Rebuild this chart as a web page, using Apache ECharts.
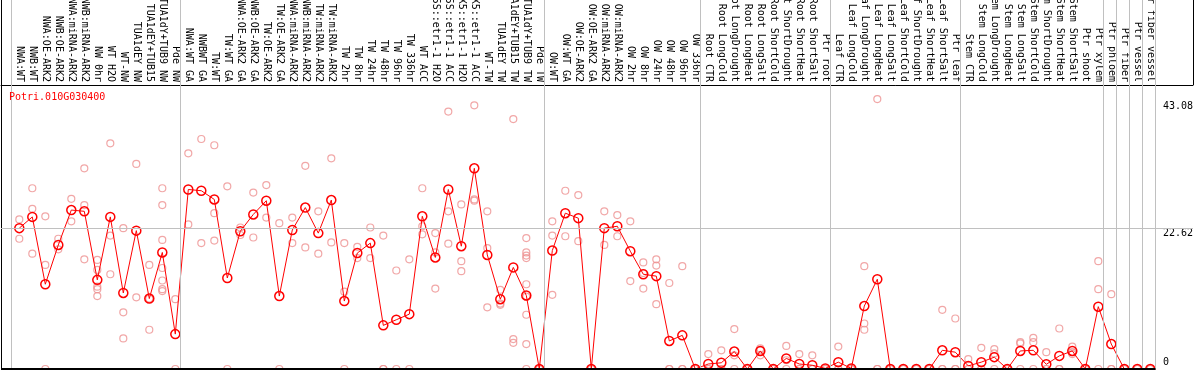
<!DOCTYPE html>
<html>
<head>
<meta charset="utf-8">
<script src="https://cdn.jsdelivr.net/npm/echarts@6/dist/echarts.min.js"></script>
<style>
html,body{margin:0;padding:0;background:#fff;}
#chart{width:1194px;height:370px;}
</style>
</head>
<body>
<div id="chart"></div>
<script>
const geneName = 'Potri.010G030400';

const categories = [
  'NWA:WT','NWB:WT','NWA:OE-ARK2','NWB:OE-ARK2','NWA:miRNA-ARK2','NWB:miRNA-ARK2','NW 0hr','WT H2O','WT-NW',
  'TUA1dEY NW','TUA1dEY+TUB15','TUA1dY+TUB9 NW','Pde NW',
  'NWA:WT GA','NWBWT GA','TW:WT','TW:WT GA','NWA:OE-ARK2 GA','NWB:OE-ARK2 GA','TW:OE-ARK2','TW:OE-ARK2 GA',
  'NWA:miRNA-ARK2','NWB:miRNA-ARK2','TW:miRNA-ARK2','TW:miRNA-ARK2',
  'TW 2hr','TW 8hr','TW 24hr','TW 48hr','TW 96hr','TW 336hr','WT ACC',
  '35S::etr1-1 H2O','35S::etr1-1 ACC','LMX5::etr1-1 H2O','LMX5::etr1-1 ACC',
  'WT-TW','TUA1dEY TW','TUA1dEY+TUB15 TW','TUA1dY+TUB9 TW','Pde TW',
  'OW:WT','OW:WT GA','OW:OE-ARK2','OW:OE-ARK2 GA','OW:miRNA-ARK2','OW:miRNA-ARK2',
  'OW 2hr','OW 8hr','OW 24hr','OW 48hr','OW 96hr','OW 336hr',
  'Root CTR','Root LongCold','Root LongDrought','Root LongHeat','Root LongSalt','Root ShortCold','Root ShortDrought','Root ShortHeat','Root ShortSalt','Ptr root',
  'Leaf CTR','Leaf LongCold','Leaf LongDrought','Leaf LongHeat','Leaf LongSalt','Leaf ShortCold','Leaf ShortDrought','Leaf ShortHeat','Leaf ShortSalt','Ptr leaf',
  'Stem CTR','Stem LongCold','Stem LongDrought','Stem LongHeat','Stem LongSalt','Stem ShortCold','Stem ShortDrought','Stem ShortHeat','Stem ShortSalt',
  'Ptr shoot','Ptr xylem','Ptr phloem','Ptr fiber','Ptr vessel','Ptr fiber vessel'
];

const meanValues = [
  22.6,24.4,13.6,19.9,25.5,25.3,14.3,24.4,12.2,22.2,11.3,18.7,5.6,
  28.8,28.6,27.2,14.6,22.1,24.8,27.0,11.7,22.3,25.9,21.8,27.1,
  10.9,18.6,20.2,7.0,7.9,8.8,24.5,17.9,28.8,19.7,32.2,18.3,11.2,16.3,11.8,0,
  19.0,25.0,24.2,0,22.6,22.9,18.9,15.2,14.9,4.5,5.4,0,
  0.8,1.0,2.8,0,2.9,0,1.7,0.8,0.6,0.1,
  1.1,0.1,10.1,14.4,0,0,0,0,3.0,2.7,
  0.5,1.1,1.9,0,2.9,3.0,0.75,2.1,2.9,
  0,10.0,4.0,0,0,0
];

const replicateValues = [
  [24.0,20.9],[29.0,25.7,18.5],[24.5,16.7,0],[20.9,19.2],[27.3,23.7],[32.2,26.3,17.6],
  [17.5,15.9,13.2,12.8,11.7],[36.2,21.4,15.2],[22.6,9.1,4.9],[32.9,11.5],[16.7,11.3,6.3],
  [29.0,26.3,20.7,16.2,14.2,12.8,12.5],[11.2,0],
  [34.6,23.2],[36.9,20.2],[35.9,25.0,20.6],[29.3,0],[22.7,21.5],[28.3,21.1],[29.5,24.3],[23.4,0],
  [24.3,20.2],[32.6,19.5],[25.3,18.5],[33.8,20.3],
  [20.2,12.4,0],[19.6,17.8],[22.7,17.8],[21.4,0,0],[15.8,0],[17.6,0],[29.0,22.9,21.6],
  [21.8,18.7,12.9],[41.3,25.3,20.1],[26.4,17.3,15.7],[42.3,27.2,27.0],
  [25.3,19.4,9.9],[12.7,10.5,10.3],[40.1,4.8,4.2],[21.0,18.7,18.2,17.8,13.6,11.6,8.7,4.0,0],[0,0],
  [23.7,21.4,11.9],[28.6,21.3],[27.9,20.5],[0,0],[25.3,19.9],[24.7,21.3],
  [23.7,14.1],[17.1,15.4,12.9],[17.6,16.6,10.4],[13.8,0,0],[16.5,0,0],[0,0],
  [2.4,0,0],[3.0,0,0],[6.4,2.2,0],[0,0],[3.3,3.0,2.2],[0,0],[3.7,1.4,0],[2.4,0,0],[2.2,0,0],[0,0],
  [3.6,0,0],[0,0],[16.5,7.3,6.3],[43.3,0,0],[0,0],[0,0],[0,0],[0,0],[9.5,0,0],[8.1,0,0],
  [1.6,0,0],[3.4,0,0],[3.2,2.5,0],[0,0],[4.3,4.1,0],[5.0,4.3,0],[2.7,0,0],[6.5,0,0],[3.6,2.7,2.4],
  [0,0],[17.3,12.8,0],[12.0,0,0],[0,0],[0,0],[0,0]
];

const yTickLabels = [0, 22.62, 43.08];
const yGridValues = [22.62];
const groupBreaks = [-0.65, 12.37, 40.38, 52.38, 62.38, 72.4, 83.37, 84.4, 85.41, 86.4, 87.4];

const X_MIN = -1.408, X_MAX = 90.285, Y_MAX = 59.2;
const MONO = 'DejaVu Sans Mono';

const chart = echarts.init(document.getElementById('chart'), null, {renderer: 'canvas'});

const meanData = meanValues.map((v, i) => [i, v]);
const repData = [];
replicateValues.forEach((arr, i) => arr.forEach(v => repData.push([i, v])));

chart.setOption({
  animation: false,
  backgroundColor: '#fff',
  title: {
    text: geneName, left: 9, top: 92, padding: 0,
    textStyle: {color: '#ff0000', fontSize: 10, fontWeight: 'normal', fontFamily: MONO}
  },
  grid: {left: 1, right: 1, top: 0, bottom: 1, containLabel: false, outerBoundsMode: 'none'},
  xAxis: [{
    type: 'value', position: 'top', offset: -85, min: X_MIN, max: X_MAX,
    axisLine: {show: true, onZero: false, lineStyle: {color: '#000', width: 1}},
    axisTick: {show: false}, splitLine: {show: false},
    axisLabel: {
      customValues: categories.map((_, i) => i),
      formatter: v => categories[Math.round(v)] || '',
      rotate: 90, margin: 3, fontSize: 10, fontFamily: MONO, color: '#000'
    }
  }],
  yAxis: [{
    type: 'value', position: 'right', min: 0, max: Y_MAX,
    axisLine: {show: false, onZero: false}, axisTick: {show: false}, splitLine: {show: false},
    axisLabel: {
      inside: true, customValues: yTickLabels, align: 'left', margin: 30,
      fontSize: 10, fontFamily: MONO, color: '#000',
      formatter: v => v === 0 ? '{z|0}' : '{p|' + v.toFixed(2) + '}',
      rich: {
        z: {fontSize: 10, fontFamily: MONO, color: '#000', padding: [0, 0, 14, 0]},
        p: {fontSize: 10, fontFamily: MONO, color: '#000', padding: [11, 0, 0, 0]}
      }
    }
  }, {
    type: 'value', position: 'left', min: 0, max: Y_MAX,
    axisLine: {show: true, onZero: false, lineStyle: {color: '#000', width: 1}},
    axisTick: {show: false}, axisLabel: {show: false}, splitLine: {show: false}
  }],
  graphic: [{
    type: 'line', shape: {x1: 1193.5, y1: 0, x2: 1193.5, y2: 85}, style: {stroke: '#000', lineWidth: 1}, silent: true
  }],
  series: [{
    type: 'line', data: [], silent: true, z: 1,
    markLine: {
      silent: true, symbol: ['none', 'none'], label: {show: false}, animation: false,
      lineStyle: {color: '#c0c0c0', width: 1, type: 'solid'},
      data: groupBreaks.map(v => ({xAxis: v})).concat(yGridValues.map(v => ({yAxis: v})))
    }
  }, {
    type: 'line', data: [], silent: true, z: 5,
    markLine: {
      silent: true, symbol: ['none', 'none'], label: {show: false}, animation: false,
      lineStyle: {color: '#000', width: 2, type: 'solid'},
      data: [[{coord: [X_MIN, 0]}, {coord: [groupBreaks[groupBreaks.length - 1], 0]}]]
    }
  }, {
    type: 'scatter', data: repData, z: 2, silent: true,
    symbol: 'circle', symbolSize: 7,
    itemStyle: {color: 'rgba(0,0,0,0)', borderColor: '#ee9191', borderWidth: 1.2}
  }, {
    type: 'line', data: meanData, z: 3, silent: true,
    symbol: 'circle', symbolSize: 9, showAllSymbol: true,
    lineStyle: {color: '#ff0000', width: 1},
    itemStyle: {color: 'rgba(0,0,0,0)', borderColor: '#ff0000', borderWidth: 1.5}
  }]
});
</script>
</body>
</html>
